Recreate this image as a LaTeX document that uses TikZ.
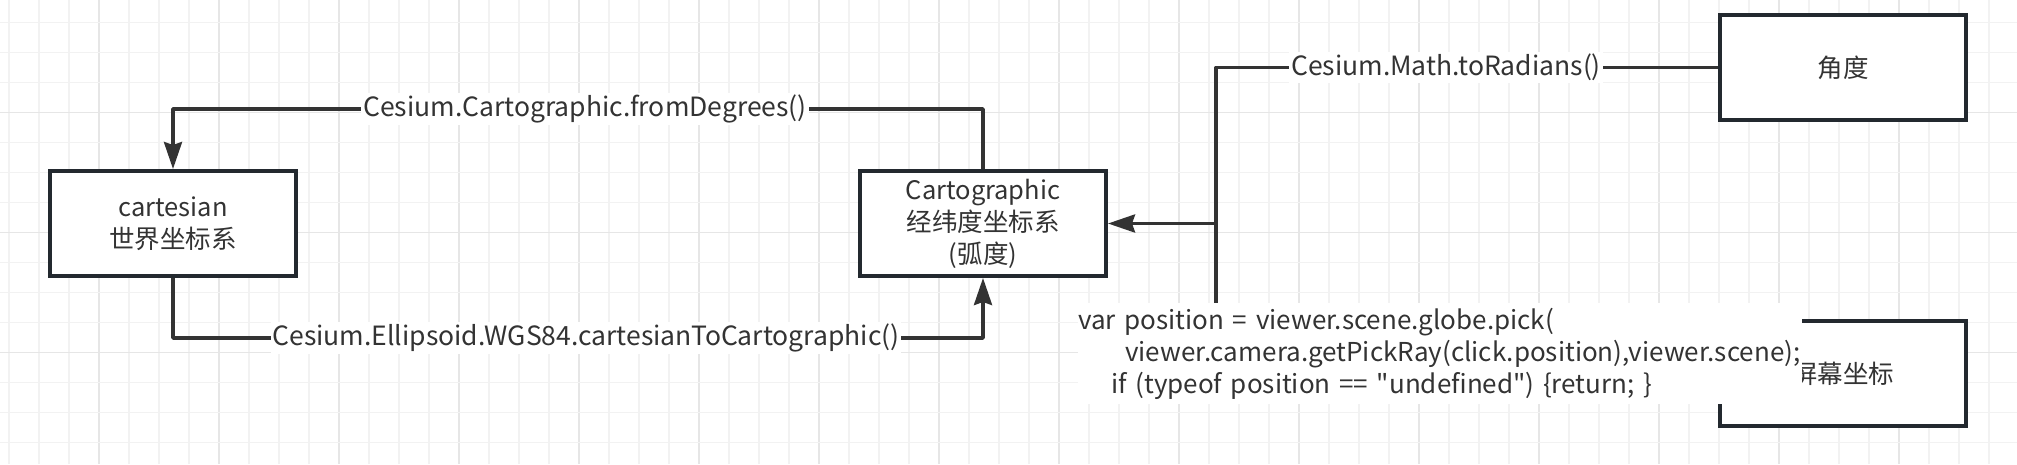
\documentclass[tikz,border=0pt]{standalone}
\usepackage{fontspec}
\newfontfamily\cjkfont{Noto Sans CJK SC}
\usetikzlibrary{arrows.meta,calc}
\definecolor{gridminor}{HTML}{F2F2F2}
\definecolor{gridmajor}{HTML}{E6E6E6}
\definecolor{ink}{HTML}{333333}
\definecolor{boxline}{HTML}{23292F}
\begin{document}
\begin{tikzpicture}[x=1pt,y=-1pt,
  box/.style={draw=boxline,line width=4pt,fill=white,minimum width=246pt,minimum height=105pt,
    inner sep=0pt,align=center,text=ink,font=\cjkfont\fontsize{25.5}{32}\selectfont},
  conn/.style={draw=ink,line width=3.5pt,line join=round},
  arr/.style={conn,-{Stealth[length=27pt,width=18pt,inset=3pt]}},
  lbl/.style={fill=white,text=ink,inner sep=2pt,font=\cjkfont\fontsize{26.5}{32}\selectfont},
  codelbl/.style={fill=white,text=ink,inner sep=0pt,text width=724pt,minimum height=101pt,
    align=left,anchor=north west,font=\cjkfont\fontsize{26}{32}\selectfont}]
\useasboundingbox (0,0) rectangle (2017,464);
\fill[white] (0,0) rectangle (2017,464);
% grid
\begin{scope}
\clip (0,0) rectangle (2017,464);
\foreach \k in {0,...,66}{
  \pgfmathtruncatemacro{\m}{mod(\k,4)}
  \ifnum\m=3
    \draw[gridmajor,line width=1.5pt] ({9+30*\k},0) -- ({9+30*\k},464);
  \else
    \draw[gridminor,line width=1.5pt] ({9+30*\k},0) -- ({9+30*\k},464);
  \fi}
\foreach \k in {0,...,14}{
  \pgfmathtruncatemacro{\m}{mod(\k,4)}
  \ifnum\m=3
    \draw[gridmajor,line width=1.5pt] (0,{22.7+30*\k}) -- (2017,{22.7+30*\k});
  \else
    \draw[gridminor,line width=1.5pt] (0,{22.7+30*\k}) -- (2017,{22.7+30*\k});
  \fi}
\end{scope}
% boxes
\node[box] (cart) at (173,223.5) {cartesian\\世界坐标系};
\node[box] (carto) at (983,223.5) {Cartographic\\经纬度坐标系\\(弧度)};
\node[box] (jiao) at (1843,67.5) {角度};
\node[box] (screen) at (1843,373.5) {屏幕坐标};
% connectors
\draw[arr] (carto.north) -- ++(0,-60) -| (cart.north);
\draw[arr] (cart.south) -- ++(0,60) -| (carto.south);
\coordinate (j1) at (1216,67.5);
\coordinate (s1) at (1216,373.5);
\coordinate (m1) at (1216,223.5);
\draw[conn] (jiao.west) -- (j1) -- (m1);
\draw[conn] (screen.west) -- (s1) -- (m1);
\draw[arr] (m1) -- (carto.east);
% labels
\node[lbl] (l1) at (585,109) {Cesium.Cartographic.fromDegrees()};
\node[lbl] (l2) at (586,338) {Cesium.Ellipsoid.WGS84.cartesianToCartographic()};
\node[lbl] (l3) at (1446,67.5) {Cesium.Math.toRadians()};
\node[codelbl] (l4) at (1078,303) {var position = viewer.scene.globe.pick(\\
\hspace*{47pt}viewer.camera.getPickRay(click.position),viewer.scene);\\
\hspace*{33pt}if (typeof position == "undefined") \{return; \}};
\end{tikzpicture}
\end{document}
